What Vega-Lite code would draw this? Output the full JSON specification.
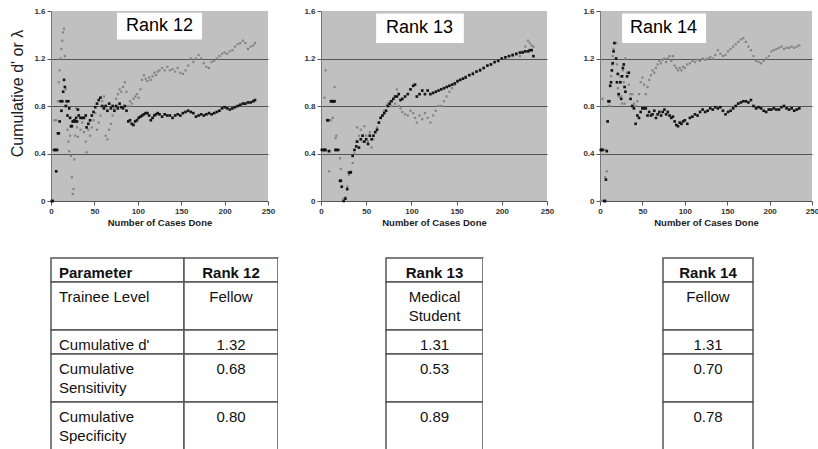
{
"$schema": "https://vega.github.io/schema/vega-lite/v6.json",
"background": "white",
"padding": {"left": 9, "top": 7, "right": 0, "bottom": 0},
"autosize": {"type": "pad"},
"config": {"view": {"stroke": null}, "text": {"font": "Liberation Sans"}},
"datasets": {
"cases": [
{"rank":12,"n":1,"d":0,"lam":0},{"rank":12,"n":2,"d":0.43,"lam":0},{"rank":12,"n":4,"d":0.68,"lam":0.43},{"rank":12,"n":5,"d":0.43,"lam":0.43},{"rank":12,"n":6,"d":0.68,"lam":0.25},{"rank":12,"n":7,"d":0.43,"lam":0.43},{"rank":12,"n":8,"d":0.84,"lam":0.57},{"rank":12,"n":9,"d":1.0,"lam":0.57},{"rank":12,"n":10,"d":1.1,"lam":0.67},{"rank":12,"n":11,"d":1.2,"lam":0.84},{"rank":12,"n":12,"d":1.28,"lam":0.76},{"rank":12,"n":13,"d":1.35,"lam":0.84},{"rank":12,"n":14,"d":1.42,"lam":0.92},{"rank":12,"n":15,"d":1.45,"lam":1.02},{"rank":12,"n":16,"d":1.22,"lam":0.96},{"rank":12,"n":17,"d":0.94,"lam":0.8},{"rank":12,"n":18,"d":0.8,"lam":0.84},{"rank":12,"n":19,"d":0.6,"lam":0.72},{"rank":12,"n":20,"d":0.5,"lam":0.84},{"rank":12,"n":21,"d":0.42,"lam":0.78},{"rank":12,"n":22,"d":0.55,"lam":0.7},{"rank":12,"n":23,"d":0.38,"lam":0.63},{"rank":12,"n":24,"d":0.2,"lam":0.63},{"rank":12,"n":25,"d":0.06,"lam":0.67},{"rank":12,"n":26,"d":0.1,"lam":0.67},{"rank":12,"n":27,"d":0.35,"lam":0.68},{"rank":12,"n":28,"d":0.55,"lam":0.67},{"rank":12,"n":29,"d":0.78,"lam":0.7},{"rank":12,"n":30,"d":0.62,"lam":0.67},{"rank":12,"n":31,"d":0.54,"lam":0.77},{"rank":12,"n":32,"d":0.72,"lam":0.72},{"rank":12,"n":34,"d":0.6,"lam":0.7},{"rank":12,"n":36,"d":0.66,"lam":0.7},{"rank":12,"n":38,"d":0.58,"lam":0.7},{"rank":12,"n":40,"d":0.5,"lam":0.72},{"rank":12,"n":41,"d":0.41,"lam":0.62},{"rank":12,"n":43,"d":0.6,"lam":0.65},{"rank":12,"n":45,"d":0.55,"lam":0.68},{"rank":12,"n":47,"d":0.62,"lam":0.72},{"rank":12,"n":49,"d":0.68,"lam":0.75},{"rank":12,"n":51,"d":0.74,"lam":0.79},{"rank":12,"n":53,"d":0.6,"lam":0.82},{"rank":12,"n":55,"d":0.66,"lam":0.85},{"rank":12,"n":57,"d":0.72,"lam":0.87},{"rank":12,"n":59,"d":0.84,"lam":0.8},{"rank":12,"n":61,"d":0.88,"lam":0.78},{"rank":12,"n":63,"d":0.55,"lam":0.8},{"rank":12,"n":65,"d":0.52,"lam":0.76},{"rank":12,"n":67,"d":0.6,"lam":0.82},{"rank":12,"n":69,"d":0.65,"lam":0.78},{"rank":12,"n":71,"d":0.72,"lam":0.8},{"rank":12,"n":73,"d":0.78,"lam":0.76},{"rank":12,"n":75,"d":0.86,"lam":0.8},{"rank":12,"n":77,"d":0.9,"lam":0.78},{"rank":12,"n":79,"d":0.94,"lam":0.82},{"rank":12,"n":81,"d":0.92,"lam":0.79},{"rank":12,"n":83,"d":0.96,"lam":0.78},{"rank":12,"n":85,"d":1.0,"lam":0.8},{"rank":12,"n":87,"d":0.92,"lam":0.76},{"rank":12,"n":89,"d":0.8,"lam":0.67},{"rank":12,"n":91,"d":0.84,"lam":0.68},{"rank":12,"n":93,"d":0.82,"lam":0.65},{"rank":12,"n":95,"d":0.86,"lam":0.64},{"rank":12,"n":97,"d":0.88,"lam":0.67},{"rank":12,"n":99,"d":0.9,"lam":0.68},{"rank":12,"n":101,"d":0.87,"lam":0.7},{"rank":12,"n":103,"d":0.94,"lam":0.71},{"rank":12,"n":105,"d":1.02,"lam":0.72},{"rank":12,"n":107,"d":1.06,"lam":0.73},{"rank":12,"n":109,"d":1.03,"lam":0.74},{"rank":12,"n":111,"d":1.01,"lam":0.74},{"rank":12,"n":113,"d":1.04,"lam":0.72},{"rank":12,"n":115,"d":1.02,"lam":0.68},{"rank":12,"n":117,"d":1.05,"lam":0.7},{"rank":12,"n":119,"d":1.08,"lam":0.72},{"rank":12,"n":121,"d":1.06,"lam":0.73},{"rank":12,"n":123,"d":1.09,"lam":0.74},{"rank":12,"n":125,"d":1.1,"lam":0.73},{"rank":12,"n":128,"d":1.12,"lam":0.71},{"rank":12,"n":131,"d":1.1,"lam":0.73},{"rank":12,"n":134,"d":1.13,"lam":0.72},{"rank":12,"n":137,"d":1.1,"lam":0.72},{"rank":12,"n":140,"d":1.11,"lam":0.7},{"rank":12,"n":143,"d":1.09,"lam":0.72},{"rank":12,"n":146,"d":1.12,"lam":0.73},{"rank":12,"n":149,"d":1.08,"lam":0.72},{"rank":12,"n":152,"d":1.07,"lam":0.74},{"rank":12,"n":155,"d":1.1,"lam":0.75},{"rank":12,"n":158,"d":1.14,"lam":0.76},{"rank":12,"n":161,"d":1.2,"lam":0.75},{"rank":12,"n":164,"d":1.17,"lam":0.74},{"rank":12,"n":167,"d":1.2,"lam":0.71},{"rank":12,"n":170,"d":1.23,"lam":0.72},{"rank":12,"n":173,"d":1.2,"lam":0.73},{"rank":12,"n":176,"d":1.16,"lam":0.72},{"rank":12,"n":179,"d":1.13,"lam":0.73},{"rank":12,"n":182,"d":1.12,"lam":0.74},{"rank":12,"n":185,"d":1.17,"lam":0.73},{"rank":12,"n":188,"d":1.18,"lam":0.74},{"rank":12,"n":191,"d":1.2,"lam":0.75},{"rank":12,"n":194,"d":1.22,"lam":0.76},{"rank":12,"n":197,"d":1.24,"lam":0.78},{"rank":12,"n":200,"d":1.25,"lam":0.79},{"rank":12,"n":203,"d":1.24,"lam":0.78},{"rank":12,"n":206,"d":1.26,"lam":0.77},{"rank":12,"n":209,"d":1.27,"lam":0.78},{"rank":12,"n":212,"d":1.3,"lam":0.79},{"rank":12,"n":215,"d":1.32,"lam":0.8},{"rank":12,"n":218,"d":1.33,"lam":0.81},{"rank":12,"n":221,"d":1.35,"lam":0.82},{"rank":12,"n":224,"d":1.33,"lam":0.82},{"rank":12,"n":227,"d":1.28,"lam":0.83},{"rank":12,"n":230,"d":1.3,"lam":0.83},{"rank":12,"n":233,"d":1.31,"lam":0.84},{"rank":12,"n":235,"d":1.33,"lam":0.85},
{"rank":13,"n":1,"d":0.43,"lam":0.43},{"rank":13,"n":3,"d":0.43,"lam":0.43},{"rank":13,"n":4,"d":0.87,"lam":0.43},{"rank":13,"n":5,"d":1.1,"lam":0.43},{"rank":13,"n":7,"d":0.68,"lam":0.68},{"rank":13,"n":8,"d":0.42,"lam":0.68},{"rank":13,"n":9,"d":0.25,"lam":0.42},{"rank":13,"n":11,"d":0.68,"lam":0.84},{"rank":13,"n":12,"d":0.84,"lam":0.84},{"rank":13,"n":13,"d":0.7,"lam":0.84},{"rank":13,"n":14,"d":0.84,"lam":0.84},{"rank":13,"n":15,"d":0.96,"lam":0.84},{"rank":13,"n":16,"d":0.53,"lam":0.43},{"rank":13,"n":17,"d":0.55,"lam":0.43},{"rank":13,"n":19,"d":0.43,"lam":0.43},{"rank":13,"n":21,"d":0.36,"lam":0.17},{"rank":13,"n":22,"d":0.27,"lam":0.17},{"rank":13,"n":23,"d":0.12,"lam":0.12},{"rank":13,"n":25,"d":0.02,"lam":0},{"rank":13,"n":27,"d":0.03,"lam":0.02},{"rank":13,"n":29,"d":0.12,"lam":0.1},{"rank":13,"n":31,"d":0.22,"lam":0.24},{"rank":13,"n":33,"d":0.25,"lam":0.24},{"rank":13,"n":35,"d":0.32,"lam":0.38},{"rank":13,"n":37,"d":0.4,"lam":0.43},{"rank":13,"n":39,"d":0.5,"lam":0.46},{"rank":13,"n":40,"d":0.62,"lam":0.5},{"rank":13,"n":42,"d":0.55,"lam":0.45},{"rank":13,"n":44,"d":0.6,"lam":0.52},{"rank":13,"n":46,"d":0.5,"lam":0.55},{"rank":13,"n":48,"d":0.63,"lam":0.5},{"rank":13,"n":50,"d":0.55,"lam":0.52},{"rank":13,"n":52,"d":0.5,"lam":0.48},{"rank":13,"n":54,"d":0.58,"lam":0.55},{"rank":13,"n":56,"d":0.45,"lam":0.52},{"rank":13,"n":58,"d":0.52,"lam":0.55},{"rank":13,"n":60,"d":0.58,"lam":0.58},{"rank":13,"n":62,"d":0.62,"lam":0.6},{"rank":13,"n":64,"d":0.66,"lam":0.66},{"rank":13,"n":66,"d":0.7,"lam":0.7},{"rank":13,"n":68,"d":0.72,"lam":0.72},{"rank":13,"n":70,"d":0.76,"lam":0.74},{"rank":13,"n":72,"d":0.8,"lam":0.76},{"rank":13,"n":74,"d":0.82,"lam":0.8},{"rank":13,"n":76,"d":0.84,"lam":0.82},{"rank":13,"n":78,"d":0.8,"lam":0.84},{"rank":13,"n":80,"d":0.86,"lam":0.86},{"rank":13,"n":82,"d":0.82,"lam":0.88},{"rank":13,"n":84,"d":0.94,"lam":0.88},{"rank":13,"n":86,"d":0.8,"lam":0.9},{"rank":13,"n":88,"d":0.78,"lam":0.85},{"rank":13,"n":90,"d":0.75,"lam":0.86},{"rank":13,"n":93,"d":0.73,"lam":0.88},{"rank":13,"n":96,"d":0.72,"lam":0.9},{"rank":13,"n":99,"d":0.76,"lam":0.94},{"rank":13,"n":102,"d":0.74,"lam":0.97},{"rank":13,"n":104,"d":0.7,"lam":0.98},{"rank":13,"n":106,"d":0.66,"lam":0.88},{"rank":13,"n":109,"d":0.72,"lam":0.9},{"rank":13,"n":112,"d":0.69,"lam":0.93},{"rank":13,"n":115,"d":0.74,"lam":0.9},{"rank":13,"n":118,"d":0.7,"lam":0.93},{"rank":13,"n":121,"d":0.66,"lam":0.9},{"rank":13,"n":124,"d":0.72,"lam":0.91},{"rank":13,"n":127,"d":0.76,"lam":0.92},{"rank":13,"n":130,"d":0.8,"lam":0.93},{"rank":13,"n":133,"d":0.8,"lam":0.94},{"rank":13,"n":136,"d":0.84,"lam":0.95},{"rank":13,"n":139,"d":0.88,"lam":0.96},{"rank":13,"n":142,"d":0.92,"lam":0.97},{"rank":13,"n":145,"d":0.95,"lam":0.98},{"rank":13,"n":148,"d":0.98,"lam":0.99},{"rank":13,"n":151,"d":1.0,"lam":1.01},{"rank":13,"n":154,"d":1.02,"lam":1.02},{"rank":13,"n":157,"d":1.03,"lam":1.03},{"rank":13,"n":160,"d":1.05,"lam":1.04},{"rank":13,"n":164,"d":1.06,"lam":1.06},{"rank":13,"n":168,"d":1.08,"lam":1.07},{"rank":13,"n":172,"d":1.09,"lam":1.09},{"rank":13,"n":176,"d":1.11,"lam":1.1},{"rank":13,"n":180,"d":1.12,"lam":1.12},{"rank":13,"n":184,"d":1.14,"lam":1.14},{"rank":13,"n":188,"d":1.15,"lam":1.15},{"rank":13,"n":192,"d":1.17,"lam":1.17},{"rank":13,"n":196,"d":1.18,"lam":1.18},{"rank":13,"n":200,"d":1.2,"lam":1.2},{"rank":13,"n":204,"d":1.21,"lam":1.21},{"rank":13,"n":208,"d":1.22,"lam":1.22},{"rank":13,"n":212,"d":1.22,"lam":1.23},{"rank":13,"n":216,"d":1.23,"lam":1.24},{"rank":13,"n":220,"d":1.22,"lam":1.25},{"rank":13,"n":223,"d":1.26,"lam":1.25},{"rank":13,"n":226,"d":1.3,"lam":1.26},{"rank":13,"n":229,"d":1.35,"lam":1.26},{"rank":13,"n":231,"d":1.33,"lam":1.27},{"rank":13,"n":233,"d":1.31,"lam":1.27},{"rank":13,"n":235,"d":1.3,"lam":1.22},
{"rank":14,"n":1,"d":0,"lam":0.43},{"rank":14,"n":2,"d":0,"lam":0.43},{"rank":14,"n":3,"d":0.86,"lam":0.43},{"rank":14,"n":5,"d":0.43,"lam":0},{"rank":14,"n":6,"d":0.2,"lam":0},{"rank":14,"n":7,"d":0.43,"lam":0.18},{"rank":14,"n":8,"d":0.25,"lam":0.42},{"rank":14,"n":9,"d":0.67,"lam":0.67},{"rank":14,"n":10,"d":0.84,"lam":0.84},{"rank":14,"n":11,"d":0.8,"lam":0.84},{"rank":14,"n":12,"d":0.97,"lam":0.97},{"rank":14,"n":13,"d":1.05,"lam":1.0},{"rank":14,"n":14,"d":1.15,"lam":1.1},{"rank":14,"n":15,"d":1.22,"lam":1.16},{"rank":14,"n":16,"d":1.28,"lam":1.26},{"rank":14,"n":17,"d":1.33,"lam":1.33},{"rank":14,"n":19,"d":1.33,"lam":1.2},{"rank":14,"n":20,"d":1.15,"lam":1.0},{"rank":14,"n":21,"d":0.95,"lam":1.07},{"rank":14,"n":22,"d":0.88,"lam":0.9},{"rank":14,"n":24,"d":1.05,"lam":1.0},{"rank":14,"n":25,"d":0.88,"lam":0.86},{"rank":14,"n":26,"d":0.82,"lam":1.05},{"rank":14,"n":27,"d":1.1,"lam":1.12},{"rank":14,"n":28,"d":1.0,"lam":1.15},{"rank":14,"n":29,"d":0.82,"lam":0.96},{"rank":14,"n":30,"d":1.2,"lam":0.92},{"rank":14,"n":32,"d":1.08,"lam":1.05},{"rank":14,"n":34,"d":0.98,"lam":1.08},{"rank":14,"n":36,"d":0.9,"lam":0.86},{"rank":14,"n":38,"d":0.9,"lam":0.8},{"rank":14,"n":40,"d":0.82,"lam":0.78},{"rank":14,"n":42,"d":0.8,"lam":0.65},{"rank":14,"n":44,"d":0.84,"lam":0.72},{"rank":14,"n":46,"d":0.9,"lam":0.7},{"rank":14,"n":48,"d":1.0,"lam":0.75},{"rank":14,"n":50,"d":1.04,"lam":0.78},{"rank":14,"n":52,"d":0.98,"lam":0.78},{"rank":14,"n":54,"d":0.9,"lam":0.78},{"rank":14,"n":56,"d":0.96,"lam":0.72},{"rank":14,"n":58,"d":1.02,"lam":0.75},{"rank":14,"n":60,"d":1.06,"lam":0.72},{"rank":14,"n":62,"d":1.1,"lam":0.73},{"rank":14,"n":64,"d":1.08,"lam":0.76},{"rank":14,"n":66,"d":1.12,"lam":0.7},{"rank":14,"n":68,"d":1.15,"lam":0.73},{"rank":14,"n":70,"d":1.18,"lam":0.75},{"rank":14,"n":72,"d":1.16,"lam":0.72},{"rank":14,"n":74,"d":1.19,"lam":0.75},{"rank":14,"n":76,"d":1.2,"lam":0.77},{"rank":14,"n":78,"d":1.17,"lam":0.73},{"rank":14,"n":80,"d":1.2,"lam":0.75},{"rank":14,"n":82,"d":1.22,"lam":0.72},{"rank":14,"n":84,"d":1.18,"lam":0.7},{"rank":14,"n":86,"d":1.22,"lam":0.71},{"rank":14,"n":88,"d":1.14,"lam":0.67},{"rank":14,"n":90,"d":1.12,"lam":0.64},{"rank":14,"n":92,"d":1.1,"lam":0.63},{"rank":14,"n":94,"d":1.12,"lam":0.66},{"rank":14,"n":96,"d":1.1,"lam":0.65},{"rank":14,"n":98,"d":1.13,"lam":0.67},{"rank":14,"n":100,"d":1.12,"lam":0.68},{"rank":14,"n":103,"d":1.15,"lam":0.65},{"rank":14,"n":106,"d":1.16,"lam":0.7},{"rank":14,"n":109,"d":1.18,"lam":0.71},{"rank":14,"n":112,"d":1.17,"lam":0.73},{"rank":14,"n":115,"d":1.19,"lam":0.72},{"rank":14,"n":118,"d":1.18,"lam":0.75},{"rank":14,"n":121,"d":1.2,"lam":0.77},{"rank":14,"n":124,"d":1.19,"lam":0.75},{"rank":14,"n":127,"d":1.2,"lam":0.76},{"rank":14,"n":130,"d":1.21,"lam":0.78},{"rank":14,"n":133,"d":1.2,"lam":0.77},{"rank":14,"n":136,"d":1.23,"lam":0.79},{"rank":14,"n":139,"d":1.27,"lam":0.78},{"rank":14,"n":142,"d":1.24,"lam":0.79},{"rank":14,"n":145,"d":1.22,"lam":0.76},{"rank":14,"n":148,"d":1.23,"lam":0.73},{"rank":14,"n":151,"d":1.26,"lam":0.75},{"rank":14,"n":154,"d":1.28,"lam":0.76},{"rank":14,"n":157,"d":1.3,"lam":0.78},{"rank":14,"n":160,"d":1.32,"lam":0.8},{"rank":14,"n":163,"d":1.34,"lam":0.82},{"rank":14,"n":166,"d":1.36,"lam":0.83},{"rank":14,"n":169,"d":1.37,"lam":0.84},{"rank":14,"n":172,"d":1.34,"lam":0.84},{"rank":14,"n":175,"d":1.3,"lam":0.83},{"rank":14,"n":178,"d":1.27,"lam":0.85},{"rank":14,"n":181,"d":1.22,"lam":0.8},{"rank":14,"n":184,"d":1.18,"lam":0.78},{"rank":14,"n":187,"d":1.17,"lam":0.79},{"rank":14,"n":190,"d":1.16,"lam":0.78},{"rank":14,"n":193,"d":1.18,"lam":0.76},{"rank":14,"n":196,"d":1.2,"lam":0.75},{"rank":14,"n":199,"d":1.22,"lam":0.77},{"rank":14,"n":202,"d":1.26,"lam":0.77},{"rank":14,"n":205,"d":1.27,"lam":0.78},{"rank":14,"n":208,"d":1.28,"lam":0.77},{"rank":14,"n":211,"d":1.29,"lam":0.77},{"rank":14,"n":214,"d":1.3,"lam":0.79},{"rank":14,"n":217,"d":1.28,"lam":0.8},{"rank":14,"n":220,"d":1.29,"lam":0.78},{"rank":14,"n":223,"d":1.29,"lam":0.77},{"rank":14,"n":226,"d":1.3,"lam":0.78},{"rank":14,"n":229,"d":1.29,"lam":0.76},{"rank":14,"n":232,"d":1.3,"lam":0.77},{"rank":14,"n":235,"d":1.31,"lam":0.78}
],
"table": [
{"col":"Parameter","row":1,"lines":1,"label":["Parameter"]},
{"col":"Parameter","row":2,"lines":2,"label":["Trainee Level"]},
{"col":"Parameter","row":3,"lines":1,"label":["Cumulative d'"]},
{"col":"Parameter","row":4,"lines":2,"label":["Cumulative","Sensitivity"]},
{"col":"Parameter","row":5,"lines":2,"label":["Cumulative","Specificity"]},
{"col":"Rank 12","row":1,"lines":1,"label":["Rank 12"]},
{"col":"Rank 12","row":2,"lines":2,"label":["Fellow"]},
{"col":"Rank 12","row":3,"lines":1,"label":["1.32"]},
{"col":"Rank 12","row":4,"lines":2,"label":["0.68"]},
{"col":"Rank 12","row":5,"lines":2,"label":["0.80"]},
{"col":"Rank 13","row":1,"lines":1,"label":["Rank 13"]},
{"col":"Rank 13","row":2,"lines":2,"label":["Medical","Student"]},
{"col":"Rank 13","row":3,"lines":1,"label":["1.31"]},
{"col":"Rank 13","row":4,"lines":2,"label":["0.53"]},
{"col":"Rank 13","row":5,"lines":2,"label":["0.89"]},
{"col":"Rank 14","row":1,"lines":1,"label":["Rank 14"]},
{"col":"Rank 14","row":2,"lines":2,"label":["Fellow"]},
{"col":"Rank 14","row":3,"lines":1,"label":["1.31"]},
{"col":"Rank 14","row":4,"lines":2,"label":["0.70"]},
{"col":"Rank 14","row":5,"lines":2,"label":["0.78"]}
]
},
"vconcat": [
{
"hconcat": [
{
"width": 217, "height": 190,
"view": {"fill": "#c0c0c0", "stroke": null},
"layer": [
{"data": {"name": "cases"}, "transform": [{"filter": "datum.rank === 12"}],
 "mark": {"type": "square", "size": 5, "color": "#858585", "opacity": 1},
 "encoding": {
  "x": {"field": "n", "type": "quantitative", "scale": {"domain": [0, 250], "nice": false}, "axis": {"values": [0,50,100,150,200,250], "grid": false, "labelFlush": false, "tickSize": 4, "tickColor": "#555", "domainColor": "#555", "labelFont": "Liberation Sans", "labelFontSize": 8, "labelFontWeight": "bold", "labelColor": "#333", "labelPadding": 2, "title": "Number of Cases Done", "titleFont": "Liberation Sans", "titleFontSize": 9.5, "titleFontWeight": "bold", "titleColor": "#222", "titlePadding": 2}},
  "y": {"field": "d", "type": "quantitative", "scale": {"domain": [0, 1.6], "nice": false}, "axis": {"values": [0,0.4,0.8,1.2,1.6], "labelExpr": "datum.value === 0 ? '0' : format(datum.value, '.1f')", "grid": true, "gridColor": {"condition": {"test": "datum.value === 0 || datum.value === 1.6", "value": "transparent"}, "value": "#555"}, "tickSize": 4, "tickColor": "#555", "domainColor": "#777", "labelFont": "Liberation Sans", "labelFontSize": 8, "labelFontWeight": "bold", "labelColor": "#333", "labelPadding": 2, "title": "Cumulative d' or λ", "titleFont": "Liberation Sans", "titleFontSize": 16, "titleFontWeight": "normal", "titleColor": "#222", "titlePadding": 8, "titleY": 82}}
 }},
{"data": {"name": "cases"}, "transform": [{"filter": "datum.rank === 12"}],
 "mark": {"type": "square", "size": 7, "color": "#141414", "opacity": 1},
 "encoding": {"x": {"field": "n", "type": "quantitative"}, "y": {"field": "lam", "type": "quantitative"}}},
{"data": {"values": [{"title": "Rank 12"}]},
 "mark": {"type": "rect", "fill": "white"},
 "encoding": {"x": {"datum": 76}, "x2": {"datum": 174}, "y": {"datum": 1.585}, "y2": {"datum": 1.36}}},
{"data": {"values": [{"title": "Rank 12"}]},
 "mark": {"type": "text", "fontSize": 18, "color": "#000", "font": "Liberation Sans"},
 "encoding": {"x": {"datum": 125}, "y": {"datum": 1.47}, "text": {"field": "title"}}}
]
},
{
"width": 226, "height": 190,
"view": {"fill": "#c0c0c0", "stroke": null},
"layer": [
{"data": {"name": "cases"}, "transform": [{"filter": "datum.rank === 13"}],
 "mark": {"type": "square", "size": 5, "color": "#858585", "opacity": 1},
 "encoding": {
  "x": {"field": "n", "type": "quantitative", "scale": {"domain": [0, 250], "nice": false}, "axis": {"values": [0,50,100,150,200,250], "grid": false, "labelFlush": false, "tickSize": 4, "tickColor": "#555", "domainColor": "#555", "labelFont": "Liberation Sans", "labelFontSize": 8, "labelFontWeight": "bold", "labelColor": "#333", "labelPadding": 2, "title": "Number of Cases Done", "titleFont": "Liberation Sans", "titleFontSize": 9.5, "titleFontWeight": "bold", "titleColor": "#222", "titlePadding": 2}},
  "y": {"field": "d", "type": "quantitative", "scale": {"domain": [0, 1.6], "nice": false}, "axis": {"values": [0,0.4,0.8,1.2,1.6], "labelExpr": "datum.value === 0 ? '0' : format(datum.value, '.1f')", "grid": true, "gridColor": {"condition": {"test": "datum.value === 0 || datum.value === 1.6", "value": "transparent"}, "value": "#555"}, "tickSize": 4, "tickColor": "#555", "domainColor": "#777", "labelFont": "Liberation Sans", "labelFontSize": 8, "labelFontWeight": "bold", "labelColor": "#333", "labelPadding": 2, "title": null}}
 }},
{"data": {"name": "cases"}, "transform": [{"filter": "datum.rank === 13"}],
 "mark": {"type": "square", "size": 7, "color": "#141414", "opacity": 1},
 "encoding": {"x": {"field": "n", "type": "quantitative"}, "y": {"field": "lam", "type": "quantitative"}}},
{"data": {"values": [{"title": "Rank 13"}]},
 "mark": {"type": "rect", "fill": "white"},
 "encoding": {"x": {"datum": 61}, "x2": {"datum": 158}, "y": {"datum": 1.58}, "y2": {"datum": 1.33}}},
{"data": {"values": [{"title": "Rank 13"}]},
 "mark": {"type": "text", "fontSize": 18, "color": "#000", "font": "Liberation Sans"},
 "encoding": {"x": {"datum": 109}, "y": {"datum": 1.455}, "text": {"field": "title"}}}
]
},
{
"width": 212, "height": 190,
"view": {"fill": "#c0c0c0", "stroke": null},
"layer": [
{"data": {"name": "cases"}, "transform": [{"filter": "datum.rank === 14"}],
 "mark": {"type": "square", "size": 5, "color": "#858585", "opacity": 1},
 "encoding": {
  "x": {"field": "n", "type": "quantitative", "scale": {"domain": [0, 250], "nice": false}, "axis": {"values": [0,50,100,150,200,250], "grid": false, "labelFlush": false, "tickSize": 4, "tickColor": "#555", "domainColor": "#555", "labelFont": "Liberation Sans", "labelFontSize": 8, "labelFontWeight": "bold", "labelColor": "#333", "labelPadding": 2, "title": "Number of Cases Done", "titleFont": "Liberation Sans", "titleFontSize": 9.5, "titleFontWeight": "bold", "titleColor": "#222", "titlePadding": 2}},
  "y": {"field": "d", "type": "quantitative", "scale": {"domain": [0, 1.6], "nice": false}, "axis": {"values": [0,0.4,0.8,1.2,1.6], "labelExpr": "datum.value === 0 ? '0' : format(datum.value, '.1f')", "grid": true, "gridColor": {"condition": {"test": "datum.value === 0 || datum.value === 1.6", "value": "transparent"}, "value": "#555"}, "tickSize": 4, "tickColor": "#555", "domainColor": "#777", "labelFont": "Liberation Sans", "labelFontSize": 8, "labelFontWeight": "bold", "labelColor": "#333", "labelPadding": 2, "title": null}}
 }},
{"data": {"name": "cases"}, "transform": [{"filter": "datum.rank === 14"}],
 "mark": {"type": "square", "size": 7, "color": "#141414", "opacity": 1},
 "encoding": {"x": {"field": "n", "type": "quantitative"}, "y": {"field": "lam", "type": "quantitative"}}},
{"data": {"values": [{"title": "Rank 14"}]},
 "mark": {"type": "rect", "fill": "white"},
 "encoding": {"x": {"datum": 26}, "x2": {"datum": 125}, "y": {"datum": 1.58}, "y2": {"datum": 1.33}}},
{"data": {"values": [{"title": "Rank 14"}]},
 "mark": {"type": "text", "fontSize": 18, "color": "#000", "font": "Liberation Sans"},
 "encoding": {"x": {"datum": 75}, "y": {"datum": 1.455}, "text": {"field": "title"}}}
]
}
],
"spacing": 53, "bounds": "flush"
},
{
"hconcat": [
{
"width": 133, "height": 192,
"data": {"name": "table"},
"transform": [{"filter": "datum.col === 'Parameter'"}, {"stack": "lines", "groupby": ["col"], "sort": [{"field": "row", "order": "ascending"}], "as": ["y0", "y1"]}],
"layer": [
{"mark": {"type": "rect", "fill": "white", "stroke": "#555", "strokeWidth": 1.5},
 "encoding": {"x": {"field": "col", "type": "nominal", "axis": null, "scale": {"paddingInner": 0, "paddingOuter": 0}}, "y": {"field": "y0", "type": "quantitative", "axis": null, "scale": {"domain": [0, 8], "reverse": true, "nice": false, "zero": false}}, "y2": {"field": "y1"}}},
{"transform": [{"filter": "datum.row === 1"}],
 "mark": {"type": "text", "align": "left", "baseline": "top", "dx": 8, "dy": 8, "font": "Liberation Sans", "fontSize": 15, "fontWeight": "bold", "lineHeight": 19, "color": "#111"},
 "encoding": {"x": {"field": "col", "type": "nominal", "bandPosition": 0}, "y": {"field": "y0", "type": "quantitative"}, "text": {"field": "label"}}},
{"transform": [{"filter": "datum.row > 1"}],
 "mark": {"type": "text", "align": "left", "baseline": "top", "dx": 8, "dy": 8, "font": "Liberation Sans", "fontSize": 15, "lineHeight": 19, "color": "#111"},
 "encoding": {"x": {"field": "col", "type": "nominal", "bandPosition": 0}, "y": {"field": "y0", "type": "quantitative"}, "text": {"field": "label"}}}
]
},
{
"width": 94, "height": 192,
"data": {"name": "table"},
"transform": [{"filter": "datum.col === 'Rank 12'"}, {"stack": "lines", "groupby": ["col"], "sort": [{"field": "row", "order": "ascending"}], "as": ["y0", "y1"]}],
"layer": [
{"mark": {"type": "rect", "fill": "white", "stroke": "#555", "strokeWidth": 1.5},
 "encoding": {"x": {"field": "col", "type": "nominal", "axis": null, "scale": {"paddingInner": 0, "paddingOuter": 0}}, "y": {"field": "y0", "type": "quantitative", "axis": null, "scale": {"domain": [0, 8], "reverse": true, "nice": false, "zero": false}}, "y2": {"field": "y1"}}},
{"transform": [{"filter": "datum.row === 1"}],
 "mark": {"type": "text", "align": "center", "baseline": "top", "dy": 8, "font": "Liberation Sans", "fontSize": 15, "fontWeight": "bold", "lineHeight": 19, "color": "#111"},
 "encoding": {"x": {"field": "col", "type": "nominal", "bandPosition": 0.5}, "y": {"field": "y0", "type": "quantitative"}, "text": {"field": "label"}}},
{"transform": [{"filter": "datum.row > 1"}],
 "mark": {"type": "text", "align": "center", "baseline": "top", "dy": 8, "font": "Liberation Sans", "fontSize": 15, "lineHeight": 19, "color": "#111"},
 "encoding": {"x": {"field": "col", "type": "nominal", "bandPosition": 0.5}, "y": {"field": "y0", "type": "quantitative"}, "text": {"field": "label"}}}
]
},
{"width": 108, "height": 192, "view": {"fill": "white", "stroke": null}, "data": {"values": [{"spacer": 1}]}, "mark": {"type": "point", "opacity": 0}},
{
"width": 97, "height": 192,
"data": {"name": "table"},
"transform": [{"filter": "datum.col === 'Rank 13'"}, {"stack": "lines", "groupby": ["col"], "sort": [{"field": "row", "order": "ascending"}], "as": ["y0", "y1"]}],
"layer": [
{"mark": {"type": "rect", "fill": "white", "stroke": "#555", "strokeWidth": 1.5},
 "encoding": {"x": {"field": "col", "type": "nominal", "axis": null, "scale": {"paddingInner": 0, "paddingOuter": 0}}, "y": {"field": "y0", "type": "quantitative", "axis": null, "scale": {"domain": [0, 8], "reverse": true, "nice": false, "zero": false}}, "y2": {"field": "y1"}}},
{"transform": [{"filter": "datum.row === 1"}],
 "mark": {"type": "text", "align": "center", "baseline": "top", "dy": 8, "font": "Liberation Sans", "fontSize": 15, "fontWeight": "bold", "lineHeight": 19, "color": "#111"},
 "encoding": {"x": {"field": "col", "type": "nominal", "bandPosition": 0.5}, "y": {"field": "y0", "type": "quantitative"}, "text": {"field": "label"}}},
{"transform": [{"filter": "datum.row > 1"}],
 "mark": {"type": "text", "align": "center", "baseline": "top", "dy": 8, "font": "Liberation Sans", "fontSize": 15, "lineHeight": 19, "color": "#111"},
 "encoding": {"x": {"field": "col", "type": "nominal", "bandPosition": 0.5}, "y": {"field": "y0", "type": "quantitative"}, "text": {"field": "label"}}}
]
},
{"width": 180, "height": 192, "view": {"fill": "white", "stroke": null}, "data": {"values": [{"spacer": 1}]}, "mark": {"type": "point", "opacity": 0}},
{
"width": 90, "height": 192,
"data": {"name": "table"},
"transform": [{"filter": "datum.col === 'Rank 14'"}, {"stack": "lines", "groupby": ["col"], "sort": [{"field": "row", "order": "ascending"}], "as": ["y0", "y1"]}],
"layer": [
{"mark": {"type": "rect", "fill": "white", "stroke": "#555", "strokeWidth": 1.5},
 "encoding": {"x": {"field": "col", "type": "nominal", "axis": null, "scale": {"paddingInner": 0, "paddingOuter": 0}}, "y": {"field": "y0", "type": "quantitative", "axis": null, "scale": {"domain": [0, 8], "reverse": true, "nice": false, "zero": false}}, "y2": {"field": "y1"}}},
{"transform": [{"filter": "datum.row === 1"}],
 "mark": {"type": "text", "align": "center", "baseline": "top", "dy": 8, "font": "Liberation Sans", "fontSize": 15, "fontWeight": "bold", "lineHeight": 19, "color": "#111"},
 "encoding": {"x": {"field": "col", "type": "nominal", "bandPosition": 0.5}, "y": {"field": "y0", "type": "quantitative"}, "text": {"field": "label"}}},
{"transform": [{"filter": "datum.row > 1"}],
 "mark": {"type": "text", "align": "center", "baseline": "top", "dy": 8, "font": "Liberation Sans", "fontSize": 15, "lineHeight": 19, "color": "#111"},
 "encoding": {"x": {"field": "col", "type": "nominal", "bandPosition": 0.5}, "y": {"field": "y0", "type": "quantitative"}, "text": {"field": "label"}}}
]
}
],
"spacing": 0, "bounds": "flush"
}
],
"spacing": 30
}
